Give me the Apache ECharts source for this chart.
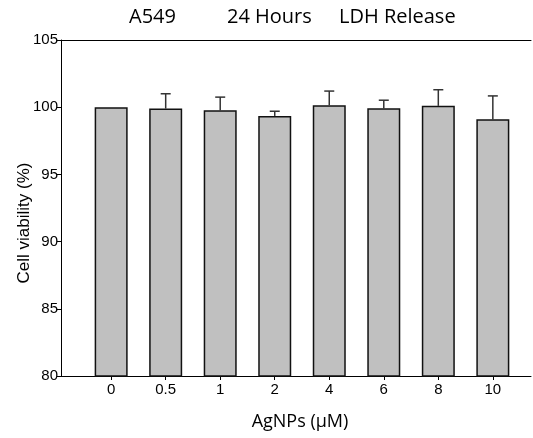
<!DOCTYPE html>
<html><head><meta charset="utf-8">
<script src="https://cdn.jsdelivr.net/npm/echarts@6/dist/echarts.min.js"></script>
<style>html,body{margin:0;padding:0;background:#fff}#c{width:533px;height:438px}</style>
</head><body><div id="c"></div>
<script>
var categories = ['0', '0.5', '1', '2', '4', '6', '8', '10'];
var viability = [100.0, 99.9, 99.78, 99.35, 100.15, 99.92, 100.1, 99.1];
var errors = [0, 1.1, 0.97, 0.35, 1.05, 0.6, 1.2, 1.74];
var yTicks = [80, 85, 90, 95, 100, 105];
var titleParts = ['A549', '24 Hours', 'LDH Release'];

var idx = categories.map(function (c, i) { return i; });
var barData = viability.map(function (v, i) { return [i, v]; });
var errData = viability.map(function (v, i) { return [i, v, v + errors[i]]; });

var chart = echarts.init(document.getElementById('c'), null, {renderer: 'canvas'});
var titleFont = {fontFamily: 'Open Sans', fontSize: 20, fontWeight: 'normal', color: '#000'};
var arial = 'Liberation Sans, Arial, sans-serif';
chart.setOption({
  animation: false,
  title: [
    {text: titleParts[0], left: 124, top: 2, textStyle: titleFont},
    {text: titleParts[1], left: 222, top: 2, textStyle: titleFont},
    {text: titleParts[2], left: 334, top: 2, textStyle: titleFont}
  ],
  grid: {left: 61, right: 2, top: 40, bottom: 62, containLabel: false, outerBoundsMode: 'none'},
  xAxis: [{
    type: 'value', min: -0.92, max: 7.7,
    name: 'AgNPs (\u03bcM)', nameLocation: 'middle', nameGap: 37, nameMoveOverlap: false,
    nameTextStyle: {fontFamily: 'Open Sans', fontSize: 18, color: '#000', padding: [0, 0, 0, 8]},
    axisLine: {show: true, lineStyle: {color: '#000', width: 1}},
    axisTick: {show: true, length: 4, lineStyle: {color: '#000'}, customValues: idx},
    axisLabel: {customValues: idx, margin: 6, fontFamily: arial, fontSize: 15, color: '#000',
      formatter: function (v) { return categories[Math.round(v)]; }},
    splitLine: {show: false}
  }, {
    type: 'value', position: 'top', min: -0.92, max: 7.7,
    axisLine: {show: true, onZero: false, lineStyle: {color: '#000', width: 1}},
    axisTick: {show: false}, axisLabel: {show: false}, splitLine: {show: false}
  }],
  yAxis: {
    type: 'value', min: yTicks[0], max: yTicks[yTicks.length - 1], interval: 5,
    name: 'Cell viability (%)', nameLocation: 'middle', nameGap: 28, nameMoveOverlap: false,
    nameTextStyle: {fontFamily: arial, fontSize: 17, color: '#000', padding: [0, 30, 0, 0]},
    axisLine: {show: true, onZero: false, lineStyle: {color: '#000', width: 1}},
    axisTick: {show: true, length: 4, lineStyle: {color: '#000'}},
    axisLabel: {margin: 3, fontFamily: arial, fontSize: 15, color: '#000'},
    splitLine: {show: false}
  },
  series: [{
    type: 'bar', data: barData, barWidth: 33, xAxisIndex: 0,
    itemStyle: {color: '#c0c0c0', borderColor: '#111', borderWidth: 1.5}
  }, {
    type: 'custom', xAxisIndex: 0, data: errData, z: 1,
    renderItem: function (params, api) {
      var x = api.value(0);
      var p0 = api.coord([x, api.value(1)]);
      var p1 = api.coord([x, api.value(2)]);
      if (p0[1] - p1[1] < 0.5) return null;
      var style = {stroke: '#333', lineWidth: 1.5};
      return {type: 'group', children: [
        {type: 'line', shape: {x1: p0[0], y1: p0[1], x2: p1[0], y2: p1[1]}, style: style},
        {type: 'line', shape: {x1: p1[0] - 5, y1: p1[1], x2: p1[0] + 5, y2: p1[1]}, style: style}
      ]};
    }
  }]
});
</script></body></html>
